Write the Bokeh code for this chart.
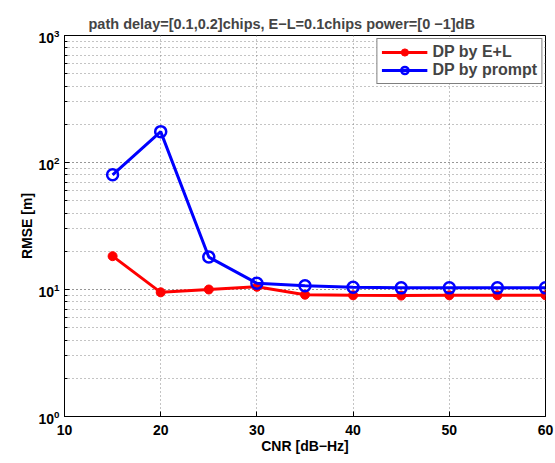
from bokeh.plotting import figure
from bokeh.embed import file_html
from bokeh.resources import INLINE
from bokeh.models import FixedTicker, Legend, LegendItem

cnr = [15, 20, 25, 30, 35, 40, 45, 50, 55, 60]
rmse_el = [18.3, 9.5, 10.0, 10.5, 9.1, 9.0, 8.95, 9.0, 9.0, 9.0]
rmse_prompt = [80, 175, 18.0, 11.2, 10.7, 10.4, 10.3, 10.3, 10.3, 10.3]
x_ticks = [10, 20, 30, 40, 50, 60]

FONT = "Liberation Sans"

p = figure(width=555, height=463, x_range=(10, 60), y_range=(1, 1000),
           y_axis_type="log", output_backend="svg", toolbar_location=None,
           title="path delay=[0.1,0.2]chips, E\u2212L=0.1chips power=[0 \u22121]dB",
           min_border_left=64, min_border_right=10, min_border_top=35,
           min_border_bottom=47)

p.title.align = "left"
p.title.text_font = FONT
p.title.text_font_size = "14.5px"
p.title.text_font_style = "bold"
p.title.offset = 24
p.title.standoff = 8

p.outline_line_color = "black"
p.outline_line_width = 1
p.background_fill_color = "white"
p.border_fill_color = "white"

p.xaxis.ticker = FixedTicker(ticks=x_ticks)
p.yaxis.ticker.num_minor_ticks = 10
for ax in (p.xaxis, p.yaxis):
    ax.axis_line_color = "black"
    ax.major_tick_in = 5
    ax.major_tick_out = 0
    ax.minor_tick_in = 3
    ax.minor_tick_out = 0
    ax.major_label_text_font = FONT
    ax.major_label_text_font_size = "14px"
    ax.major_label_text_font_style = "bold"
    ax.major_label_text_color = "black"
    ax.axis_label_text_font = FONT
    ax.axis_label_text_font_size = "14px"
    ax.axis_label_text_font_style = "bold"
    ax.axis_label_text_color = "black"
p.xaxis.axis_label = "CNR [dB\u2212Hz]"
p.yaxis.axis_label = "RMSE [m]"
p.xaxis.major_label_standoff = 8
p.xaxis.axis_label_standoff = 0
p.yaxis.major_label_standoff = 5
p.yaxis.axis_label_standoff = 0

p.xgrid.grid_line_color = "#888888"
p.xgrid.grid_line_dash = "1 3"
p.ygrid.grid_line_color = "#888888"
p.ygrid.grid_line_dash = "1 3"
p.ygrid.minor_grid_line_color = "#888888"
p.ygrid.minor_grid_line_dash = "1 3"

r1 = p.line(cnr, rmse_el, line_color="red", line_width=3)
m1 = p.scatter(cnr, rmse_el, marker="circle", size=9, fill_color="red", line_color="red")
r2 = p.line(cnr, rmse_prompt, line_color="blue", line_width=3)
m2 = p.scatter(cnr, rmse_prompt, marker="circle", size=11, fill_color=None,
               line_color="blue", line_width=2.5)

legend = Legend(items=[LegendItem(label="DP by E+L", renderers=[r1, m1]),
                       LegendItem(label="DP by prompt", renderers=[r2, m2])],
                location="top_right")
legend.label_text_font = FONT
legend.label_text_font_size = "16px"
legend.label_text_font_style = "bold"
legend.border_line_color = "black"
legend.border_line_width = 1
legend.glyph_width = 46
legend.glyph_height = 18
legend.label_height = 18
legend.spacing = 0
legend.padding = 4
legend.margin = 3
legend.label_standoff = 5
legend.background_fill_alpha = 1
p.add_layout(legend)

open("out.html", "w").write(file_html(p, INLINE))
